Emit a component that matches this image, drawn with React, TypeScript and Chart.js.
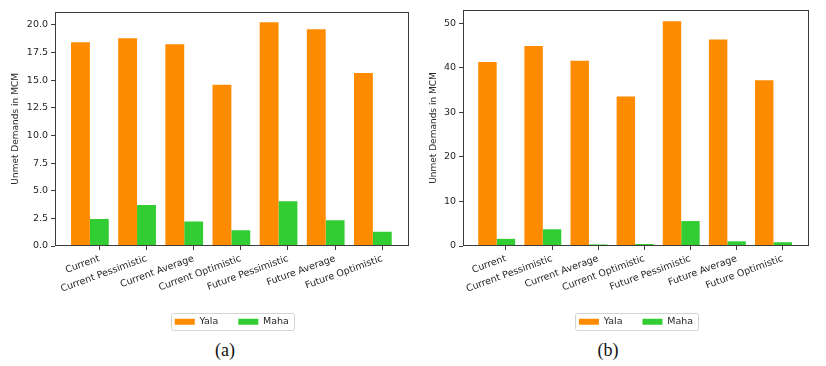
import React, { useEffect, useRef } from "react";
import { Chart, registerables } from "chart.js";

Chart.register(...registerables);

// ---------- data ----------
const CATEGORIES = [
  "Current",
  "Current Pessimistic",
  "Current Average",
  "Current Optimistic",
  "Future Pessimistic",
  "Future Average",
  "Future Optimistic",
];
const SERIES_NAMES = ["Yala", "Maha"];
const YALA_A = [18.43, 18.8, 18.25, 14.6, 20.25, 19.62, 15.65];
const MAHA_A = [2.45, 3.7, 2.22, 1.42, 4.05, 2.33, 1.3];
const YALA_B = [41.3, 44.9, 41.6, 33.6, 50.5, 46.4, 37.2];
const MAHA_B = [1.6, 3.75, 0.35, 0.45, 5.6, 1.05, 0.85];
const Y_TICKS_A = [0, 2.5, 5, 7.5, 10, 12.5, 15, 17.5, 20];
const Y_TICKS_B = [0, 10, 20, 30, 40, 50];
const Y_MAX_A = 21.2;
const Y_MAX_B = 53;
const Y_TITLE = "Unmet Demands in MCM";
const CAPTIONS = ["(a)", "(b)"];

const COLORS = ["#FF8C00", "#32CD32"];
const TEXT = "#262626";
const FONT = "'DejaVu Sans', sans-serif";

const framePlugin = {
  id: "mplFrame",
  afterDraw(chart: any) {
    const { ctx, chartArea: a } = chart;
    ctx.save();
    ctx.strokeStyle = "#3c3c3c";
    ctx.lineWidth = 1;
    const l = Math.round(a.left) + 0.5;
    const t = Math.round(a.top) + 0.5;
    const r = Math.round(a.right) - 0.5;
    const b = Math.round(a.bottom) - 0.5;
    ctx.strokeRect(l, t, r - l, b - t);
    const hb = chart.legend && chart.legend.legendHitBoxes;
    if (hb && hb.length) {
      const L = Math.min(...hb.map((h: any) => h.left)) - 4;
      const R = Math.max(...hb.map((h: any) => h.left + h.width)) + 5;
      const T = Math.min(...hb.map((h: any) => h.top)) - 3.6;
      const B = Math.max(...hb.map((h: any) => h.top + h.height)) + 3.6;
      ctx.strokeStyle = "#d4d4d4";
      ctx.beginPath();
      const x0 = Math.round(L) + 0.5, y0 = Math.round(T) + 0.5;
      const x1 = Math.round(R) + 0.5, y1 = Math.round(B) + 0.5;
      const rr = 2;
      ctx.moveTo(x0 + rr, y0);
      ctx.lineTo(x1 - rr, y0);
      ctx.quadraticCurveTo(x1, y0, x1, y0 + rr);
      ctx.lineTo(x1, y1 - rr);
      ctx.quadraticCurveTo(x1, y1, x1 - rr, y1);
      ctx.lineTo(x0 + rr, y1);
      ctx.quadraticCurveTo(x0, y1, x0, y1 - rr);
      ctx.lineTo(x0, y0 + rr);
      ctx.quadraticCurveTo(x0, y0, x0 + rr, y0);
      ctx.stroke();
    }
    ctx.restore();
  },
};

type PanelProps = {
  yala: number[];
  maha: number[];
  yTicks: number[];
  yMax: number;
  decimals: number;
  padLeft: number;
  padRight: number;
  padTop: number;
  yAxisWidth: number;
  xMin: number;
  xMax: number;
};

const W = 413;
const H = 340;

function Panel(p: PanelProps) {
  const ref = useRef<HTMLCanvasElement | null>(null);
  useEffect(() => {
    if (!ref.current) return;
    const series = [p.yala, p.maha];
    const chart = new Chart(ref.current, {
      type: "bar",
      data: {
        datasets: SERIES_NAMES.map((name, si) => ({
          label: name,
          data: series[si].map((v, i) => ({ x: i - 0.2, y: v })),
          backgroundColor: COLORS[si],
          borderWidth: 0,
          categoryPercentage: 0.8,
          barPercentage: 1.0,
        })),
      },
      options: {
        animation: false,
        responsive: false,
        maintainAspectRatio: false,
        layout: {
          padding: { left: p.padLeft, right: p.padRight, top: p.padTop, bottom: 3.5 },
        },
        plugins: {
          tooltip: { enabled: false },
          legend: {
            position: "bottom",
            fullSize: false,
            labels: {
              boxWidth: 20,
              boxHeight: 6,
              padding: 20,
              color: TEXT,
              font: { family: FONT, size: 9.5 },
            },
          },
        },
        scales: {
          x: {
            type: "linear",
            min: p.xMin,
            max: p.xMax,
            offset: false,
            afterBuildTicks: (s: any) => {
              s.ticks = CATEGORIES.map((_, i) => ({ value: i }));
            },
            afterFit: (s: any) => {
              s.height = 51;
            },
            grid: {
              display: true,
              drawOnChartArea: false,
              drawTicks: true,
              tickLength: 4,
              tickColor: "#3c3c3c",
              offset: false,
            },
            border: { display: false },
            ticks: {
              autoSkip: false,
              minRotation: 20,
              maxRotation: 20,
              padding: 3,
              color: TEXT,
              font: { family: FONT, size: 9.5 },
              callback: (v: any) => CATEGORIES[Math.round(Number(v))] ?? "",
            },
          },
          y: {
            type: "linear",
            min: 0,
            max: p.yMax,
            afterBuildTicks: (s: any) => {
              s.ticks = p.yTicks.map((v) => ({ value: v }));
            },
            afterFit: (s: any) => {
              s.width = p.yAxisWidth;
            },
            grid: {
              display: true,
              drawOnChartArea: false,
              drawTicks: true,
              tickLength: 4,
              tickColor: "#3c3c3c",
            },
            border: { display: false },
            ticks: {
              padding: 3,
              color: TEXT,
              font: { family: FONT, size: 9.5 },
              callback: (v: any) => Number(v).toFixed(p.decimals),
            },
            title: {
              display: true,
              text: Y_TITLE,
              color: TEXT,
              padding: 0,
              font: { family: FONT, size: 9 },
            },
          },
        },
      },
      plugins: [framePlugin],
    } as any);
    return () => chart.destroy();
  }, []);
  return <canvas ref={ref} width={W} height={H} style={{ width: W, height: H, display: "block" }} />;
}

export default function App() {
  const captionStyle: React.CSSProperties = {
    position: "absolute",
    top: 340,
    width: 60,
    textAlign: "center",
    fontFamily: "'Liberation Serif', 'Times New Roman', serif",
    fontSize: 18,
    lineHeight: "20px",
    color: "#111",
  };
  return (
    <div style={{ position: "absolute", left: 0, top: 0, width: 826, height: 366, background: "#fff" }}>
      <div style={{ position: "absolute", left: 0, top: 0 }}>
        <Panel
          yala={YALA_A}
          maha={MAHA_A}
          yTicks={Y_TICKS_A}
          yMax={Y_MAX_A}
          decimals={1}
          padLeft={10}
          padRight={4.3}
          padTop={11.7}
          yAxisWidth={45}
          xMin={-0.94}
          xMax={6.56}
        />
      </div>
      <div style={{ position: "absolute", left: 413, top: 0 }}>
        <Panel
          yala={YALA_B}
          maha={MAHA_B}
          yTicks={Y_TICKS_B}
          yMax={Y_MAX_B}
          decimals={0}
          padLeft={15.3}
          padRight={17}
          padTop={10}
          yAxisWidth={34.7}
          xMin={-0.93}
          xMax={6.57}
        />
      </div>
      <div style={{ ...captionStyle, left: 225 - 30 }}>{CAPTIONS[0]}</div>
      <div style={{ ...captionStyle, left: 608 - 30 }}>{CAPTIONS[1]}</div>
    </div>
  );
}
